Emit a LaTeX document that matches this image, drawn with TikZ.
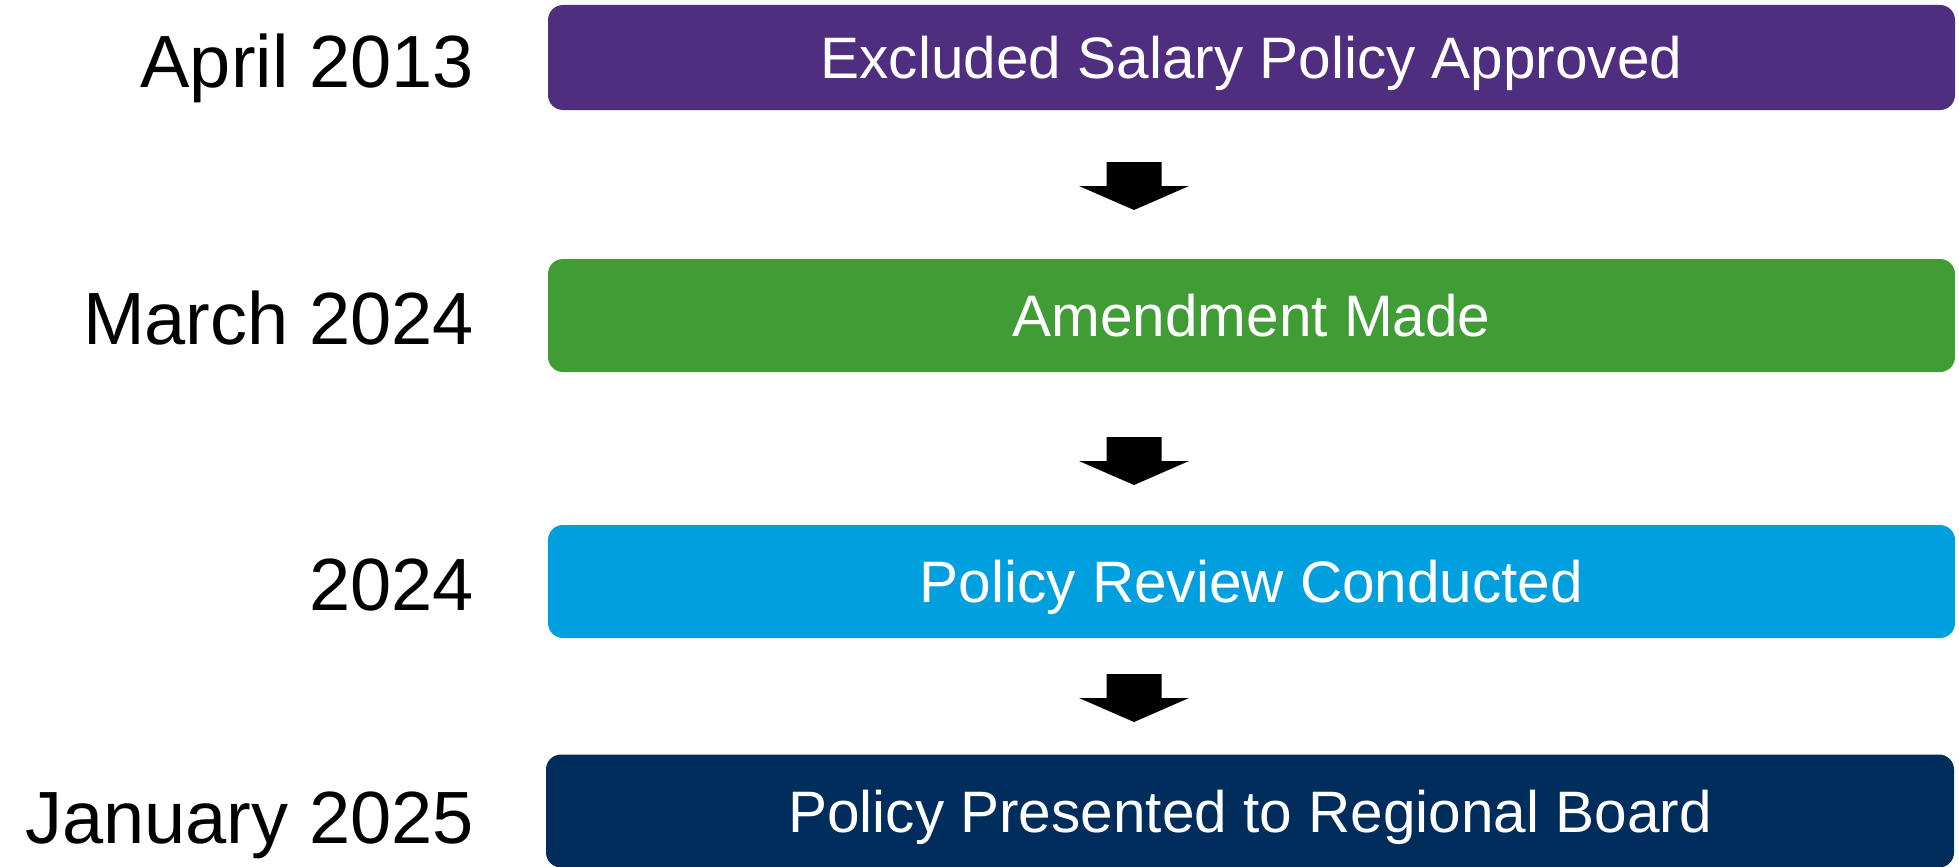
\documentclass[tikz,border=0pt]{standalone}
\usepackage{fontspec}
\setmainfont{Liberation Sans}
\definecolor{cpurple}{RGB}{79,45,127}
\definecolor{cgreen}{RGB}{64,156,53}
\definecolor{cblue}{RGB}{0,160,223}
\definecolor{cnavy}{RGB}{0,45,92}
\tikzset{
  stagebox/.style={rectangle, rounded corners=15pt, minimum width=1407pt, minimum height=113pt,
    inner sep=0pt, text=white, text height=42pt, text depth=0pt,
    font=\fontsize{58.5}{70}\selectfont},
  datelabel/.style={anchor=base east, inner sep=0pt, text=black,
    font=\fontsize{74}{88}\selectfont},
  blockarrow/.pic={\fill[black] (-27.5,0) -- (27.5,0) -- (27.5,24) -- (55,24) -- (0,48) -- (-55,24) -- (-27.5,24) -- cycle;}
}
\begin{document}
\begin{tikzpicture}[x=1pt,y=-1pt]
\useasboundingbox (0,0) rectangle (1959,867);
\fill[white] (0,0) rectangle (1959,867);
\node[stagebox, fill=cpurple, minimum height=105pt] (b1) at (1251.5,57.5) {Excluded Salary Policy Approved};
\node[stagebox, fill=cgreen] (b2) at (1251.5,315.5) {Amendment Made};
\node[stagebox, fill=cblue] (b3) at (1251.5,581.5) {Policy Review Conducted};
\node[stagebox, fill=cnavy, minimum width=1408pt] (b4) at (1250,811) {Policy Presented to Regional Board};
\node[datelabel] (d1) at (474,87) {April 2013};
\node[datelabel] (d2) at (474,344) {March 2024};
\node[datelabel] (d3) at (474,610) {2024};
\node[datelabel] (d4) at (474,843) {January 2025};
\coordinate (a1) at (1134,162);
\coordinate (a2) at (1134,437);
\coordinate (a3) at (1134,674);
\pic at (a1) {blockarrow};
\pic at (a2) {blockarrow};
\pic at (a3) {blockarrow};
\end{tikzpicture}
\end{document}
